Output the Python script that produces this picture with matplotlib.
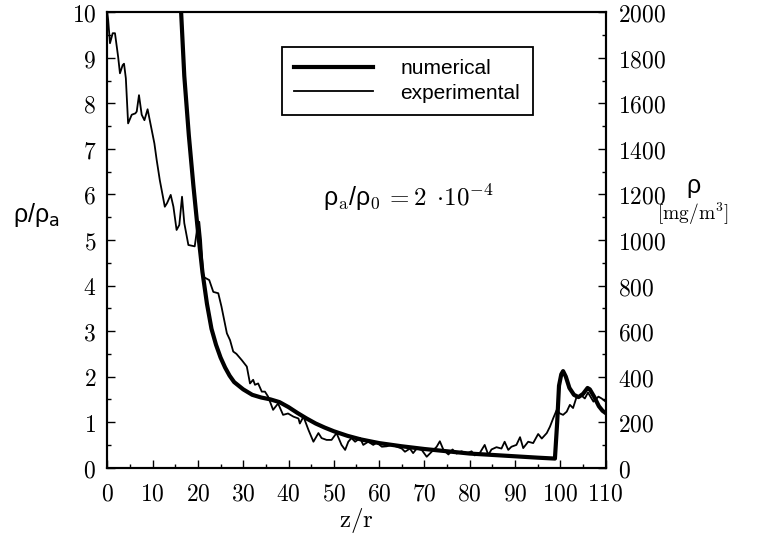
import matplotlib
matplotlib.use('Agg')
import matplotlib.pyplot as plt
from matplotlib.ticker import MultipleLocator, FuncFormatter

# numerical solution (rho / rho_a vs z / r)
num_x = [16.3, 17.0, 18.0, 19.0, 20.0, 21.0, 22.0, 23.0, 24.0, 25.0, 26.0, 27.0, 28.0,
         30.0, 32.0, 34.0, 36.0, 38.0, 40.0, 42.0, 44.0, 46.0, 48.0, 50.0, 53.0, 56.0,
         60.0, 65.0, 70.0, 75.0, 80.0, 85.0, 90.0, 95.0, 98.8, 99.3, 99.7, 100.2, 100.6,
         101.2, 102.0, 103.0, 104.0, 105.0, 106.0, 106.5, 107.5, 108.5, 109.3, 110.0]
num_y = [10.0, 8.6, 7.3, 6.2, 5.2, 4.3, 3.6, 3.05, 2.7, 2.42, 2.2, 2.02, 1.88,
         1.72, 1.6, 1.54, 1.5, 1.44, 1.33, 1.2, 1.08, 0.97, 0.88, 0.8, 0.7, 0.62,
         0.54, 0.47, 0.41, 0.36, 0.31, 0.28, 0.25, 0.22, 0.2, 1.0, 1.8, 2.05, 2.12,
         2.0, 1.75, 1.6, 1.55, 1.62, 1.75, 1.72, 1.55, 1.35, 1.25, 1.2]

# experimental measurement
exp_x = [0.0, 0.2, 0.6, 1.2, 1.7, 2.4, 2.8, 3.4, 3.7, 4.1, 4.6, 5.4, 6.2, 6.5, 7.0, 7.6,
         8.2, 8.9, 9.8, 10.4, 10.9, 11.6, 12.7, 13.2, 14.0, 14.6, 15.3, 15.9, 16.5, 17.0,
         17.9, 18.8, 19.3, 19.9, 20.3, 20.7, 21.2, 22.5, 23.4, 24.5, 25.2, 26.4, 27.1,
         27.8, 28.5, 29.7, 30.8, 31.5, 32.2, 32.6, 33.3, 34.1, 34.8, 35.5, 36.6, 37.7,
         38.8, 39.9, 41.1, 42.2, 42.5, 43.3, 44.4, 45.5, 46.6, 47.3, 48.4, 49.5, 50.6,
         51.7, 52.5, 53.2, 53.9, 54.7, 55.8, 56.5, 57.6, 58.7, 59.5, 60.6, 61.7, 62.8,
         63.9, 65.0, 65.7, 66.8, 67.5, 68.3, 69.4, 70.5, 71.6, 72.7, 73.4, 74.2, 75.3,
         76.2, 77.1, 78.2, 79.3, 80.4, 81.1, 82.2, 83.3, 84.1, 84.8, 85.9, 87.0, 87.7,
         88.5, 89.2, 90.3, 91.1, 91.8, 92.9, 94.0, 95.1, 95.9, 97.0, 97.7, 98.4, 99.2,
         99.9, 100.6, 101.4, 102.1, 102.8, 103.6, 104.7, 105.4, 106.1, 107.3, 108.4,
         109.1, 110.0]
exp_y = [10.0, 9.83, 9.32, 9.54, 9.54, 9.02, 8.66, 8.84, 8.87, 8.55, 7.56, 7.75, 7.78,
         7.82, 8.18, 7.75, 7.63, 7.87, 7.42, 7.12, 6.76, 6.31, 5.73, 5.81, 5.99, 5.73,
         5.22, 5.33, 5.95, 5.37, 4.89, 4.87, 4.86, 5.29, 5.40, 5.0, 4.19, 4.12, 3.86,
         3.83, 3.54, 2.95, 2.80, 2.55, 2.50, 2.36, 2.22, 1.85, 1.93, 1.82, 1.85, 1.67,
         1.67, 1.56, 1.27, 1.41, 1.16, 1.19, 1.12, 1.08, 0.97, 1.12, 0.83, 0.57, 0.76,
         0.65, 0.61, 0.61, 0.76, 0.50, 0.39, 0.57, 0.65, 0.57, 0.65, 0.50, 0.57, 0.50,
         0.55, 0.46, 0.47, 0.50, 0.46, 0.42, 0.35, 0.42, 0.32, 0.42, 0.39, 0.24, 0.35,
         0.46, 0.58, 0.39, 0.29, 0.40, 0.31, 0.36, 0.31, 0.36, 0.27, 0.32, 0.50, 0.28,
         0.40, 0.45, 0.42, 0.57, 0.39, 0.46, 0.50, 0.67, 0.43, 0.57, 0.54, 0.74, 0.64,
         0.76, 0.90, 1.08, 1.27, 1.19, 1.16, 1.23, 1.38, 1.31, 1.56, 1.58, 1.52, 1.65,
         1.45, 1.56, 1.52, 1.45]

plt.rcParams['mathtext.fontset'] = 'cm'

fig = plt.figure(figsize=(7.57, 5.38), dpi=100)
ax = fig.add_axes([0.1417, 0.1307, 0.6584, 0.8465])

ax.plot(num_x, num_y, color='black', lw=3.0, solid_joinstyle='round', label='numerical')
ax.plot(exp_x, exp_y, color='black', lw=1.3, solid_joinstyle='round', label='experimental')

ax.set_xlim(0, 110)
ax.set_ylim(0, 10)
fmt = FuncFormatter(lambda v, p: f'${v:.0f}$')
ax.xaxis.set_major_locator(MultipleLocator(10))
ax.xaxis.set_minor_locator(MultipleLocator(5))
ax.yaxis.set_major_locator(MultipleLocator(1))
ax.yaxis.set_minor_locator(MultipleLocator(0.5))
ax.xaxis.set_major_formatter(fmt)
ax.yaxis.set_major_formatter(fmt)
ax.tick_params(which='both', direction='in', top=False, right=False, labelsize=17)
ax.tick_params(which='major', length=5.5, width=1.0)
ax.tick_params(which='minor', length=3.0, width=1.0)
ax.tick_params(axis='y', pad=8)
ax.tick_params(axis='x', pad=10)

ax2 = ax.twinx()
ax2.set_ylim(0, 2000)
ax2.yaxis.set_major_locator(MultipleLocator(200))
ax2.yaxis.set_minor_locator(MultipleLocator(100))
ax2.yaxis.set_major_formatter(fmt)
ax2.tick_params(which='both', direction='in', labelsize=17, pad=9)
ax2.tick_params(which='major', length=5.5, width=1.0)
ax2.tick_params(which='minor', length=3.0, width=1.0)

for a in (ax, ax2):
    for s in a.spines.values():
        s.set_linewidth(1.5)

ax.set_xlabel(r'$\mathrm{z/r}$', fontsize=18, labelpad=0)

leg = ax.legend(loc='upper left', bbox_to_anchor=(0.35, 0.924), frameon=True,
                fancybox=False, edgecolor='black', framealpha=1,
                prop={'family': 'Liberation Sans', 'size': 15},
                handlelength=3.8, handletextpad=1.3, borderpad=0.6,
                labelspacing=0.25, borderaxespad=0)
leg.get_frame().set_linewidth(1.3)

fig.text(0.048, 0.60, r'ρ/ρ$_{\mathrm{a}}$', family='Liberation Sans',
         math_fontfamily='dejavusans', fontsize=18, ha='center', va='center')
fig.text(693 / 757, 1 - 186 / 538, 'ρ', family='Liberation Sans',
         fontsize=18, ha='center', va='center')
fig.text(693 / 757, 1 - 214 / 538, r'$[\mathrm{mg/m}^3]$', fontsize=14,
         ha='center', va='center')
ax.text(0.605, 0.592, r'ρ$_{\mathrm{a}}$/ρ$_0$$\,=2\;\cdot\!10^{-4}$',
        family='Liberation Sans', fontsize=18, ha='center', va='center',
        transform=ax.transAxes)

fig.savefig('out.png', dpi=100)
